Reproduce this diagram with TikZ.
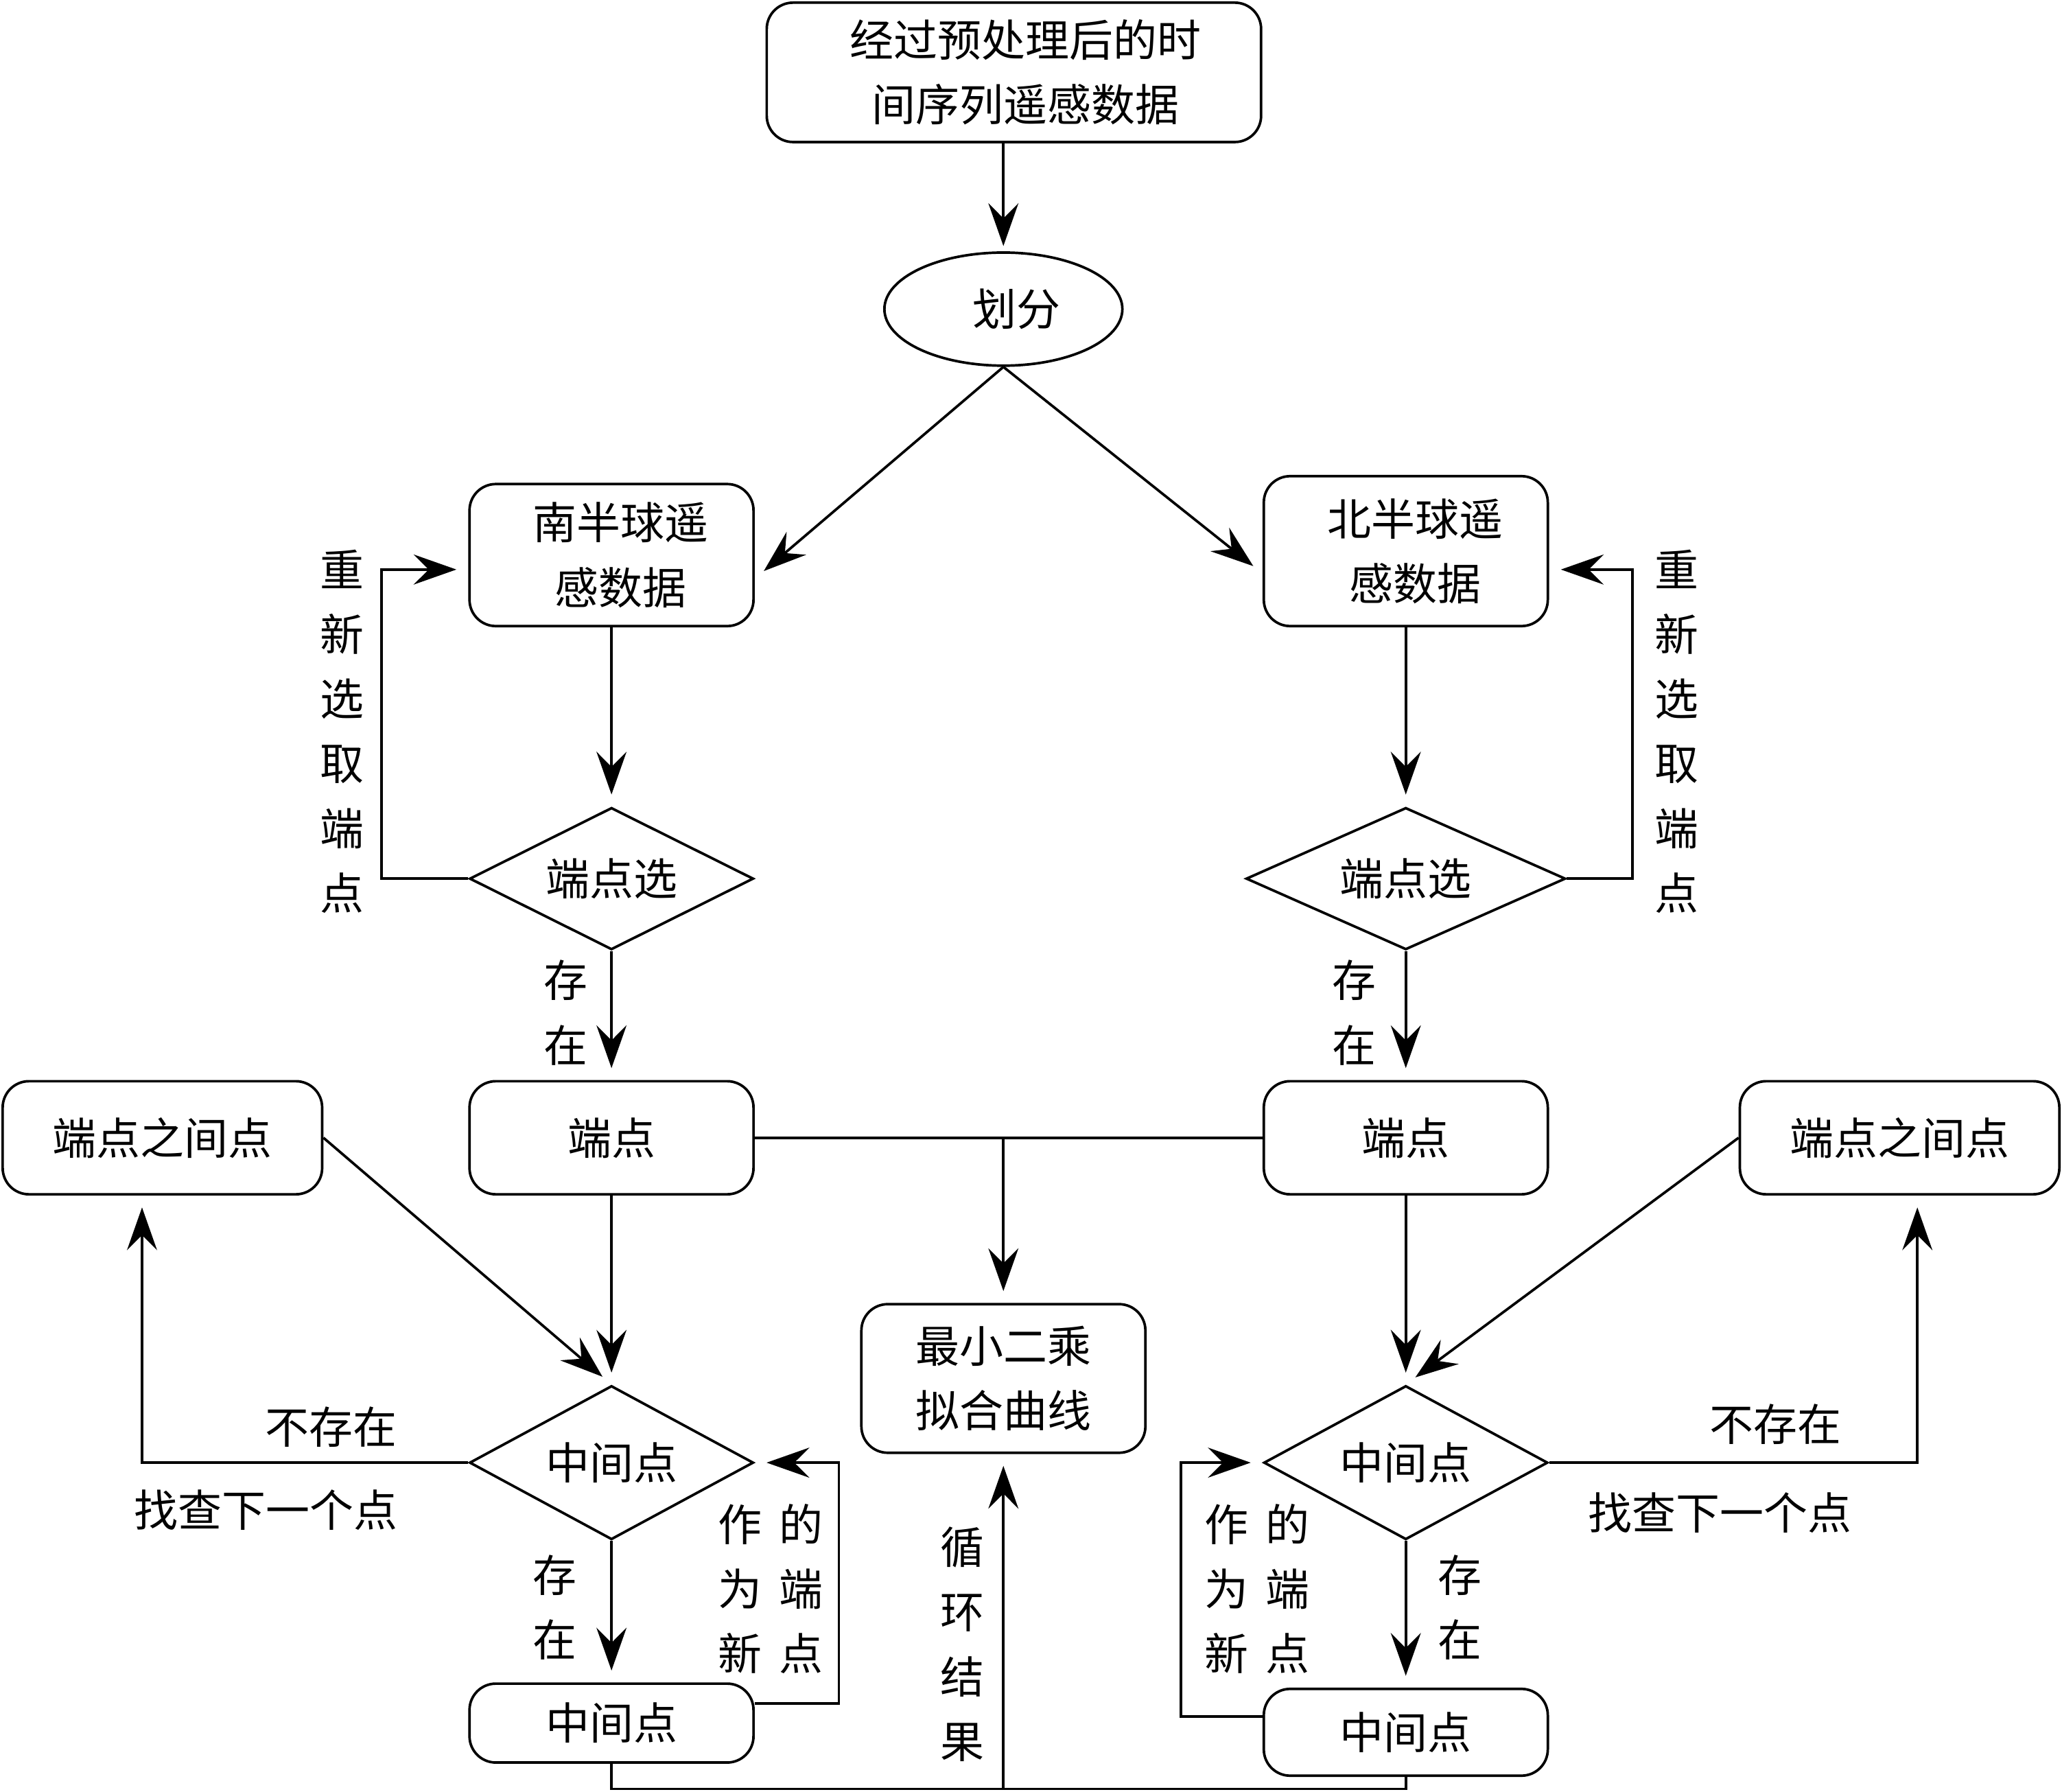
\documentclass[tikz,border=0pt]{standalone}
\usepackage{fontspec}
\newfontfamily\cjk{Noto Sans CJK SC}
\usetikzlibrary{shapes.geometric,arrows.meta,calc}
\begin{document}
\begin{tikzpicture}[x=0.02cm,y=-0.02cm,
  every node/.style={font=\cjk\fontsize{19}{28}\selectfont, inner sep=0pt},
  rbox/.style={draw, rounded corners=0.4cm, line width=1.1pt, align=center},
  dbox/.style={draw, diamond, line width=1.1pt},
  arr/.style={-{Stealth[length=18.5pt,width=13pt,inset=6.5pt]}, line width=1.1pt, shorten >=0.18cm},
  ln/.style={line width=1.1pt},
  lbl/.style={align=center}
]
\useasboundingbox (0,0) rectangle (1568,1362);
% nodes
\node[rbox, minimum width=7.52cm, minimum height=2.12cm] (top) at (771,55) {\hspace*{0.36cm}经过预处理后的时\\\hspace*{0.36cm}间序列遥感数据};
\node[draw, ellipse, line width=1.1pt, minimum width=3.62cm, minimum height=1.72cm] (div) at (763,235) {\hspace*{0.4cm}划分};
\node[rbox, minimum width=4.32cm, minimum height=2.16cm] (south) at (465,422) {\hspace*{0.28cm}南半球遥\\\hspace*{0.28cm}感数据};
\node[rbox, minimum width=4.32cm, minimum height=2.28cm] (north) at (1069,419) {\hspace*{0.28cm}北半球遥\\\hspace*{0.28cm}感数据};
\node[dbox, shape aspect=2, minimum width=4.32cm, minimum height=2.16cm] (sdia) at (465,668) {端点选};
\node[dbox, shape aspect=2.25, minimum width=4.86cm, minimum height=2.16cm] (ndia) at (1069,668) {端点选};
\node[rbox, minimum width=4.32cm, minimum height=1.72cm] (sep) at (465,865) {端点};
\node[rbox, minimum width=4.32cm, minimum height=1.72cm] (nep) at (1069,865) {端点};
\node[rbox, minimum width=4.32cm, minimum height=2.26cm] (lsq) at (763,1048) {最小二乘\\拟合曲线};
\node[rbox, minimum width=4.86cm, minimum height=1.72cm] (lbt) at (123.5,865) {端点之间点};
\node[rbox, minimum width=4.86cm, minimum height=1.72cm] (rbt) at (1444.5,865) {端点之间点};
\node[dbox, shape aspect=1.83, minimum width=4.32cm, minimum height=2.34cm] (lmid) at (465,1112) {中间点};
\node[dbox, shape aspect=1.83, minimum width=4.32cm, minimum height=2.34cm] (rmid) at (1069,1112) {中间点};
\node[rbox, minimum width=4.32cm, minimum height=1.2cm] (lmb) at (465,1310) {中间点};
\node[rbox, minimum width=4.32cm, minimum height=1.32cm] (rmb) at (1069,1317) {中间点};
% labels
\node[lbl] (l1) at (260,556) {重\\新\\选\\取\\端\\点};
\node[lbl] (l2) at (1275,556) {重\\新\\选\\取\\端\\点};
\node[lbl] (e1) at (430,770) {存\\在};
\node[lbl] (e2) at (1030,770) {存\\在};
\node[lbl] (e3) at (422,1222) {存\\在};
\node[lbl] (e4) at (1110,1222) {存\\在};
\node (n1) at (252,1085) {不存在};
\node (f1) at (202,1148) {找查下一个点};
\node (n2) at (1350,1083) {不存在};
\node (f2) at (1308,1150) {找查下一个点};
\node[lbl] (c1) at (732,1250) {循\\环\\结\\果};
\node[lbl] (w1) at (586,1208) {作\hspace{0.26cm}的\\为\hspace{0.26cm}端\\新\hspace{0.26cm}点};
\node[lbl] (w2) at (956,1208) {作\hspace{0.26cm}的\\为\hspace{0.26cm}端\\新\hspace{0.26cm}点};
% connectors
\draw[arr, shorten >=0.08cm] (div.north |- top.south) -- (div.north);
\draw[arr] (div.south) -- ([yshift=-0.36cm]south.east);
\draw[arr] (div.south) -- ([yshift=-0.34cm]north.west);
\draw[arr] (south.south) -- (sdia.north);
\draw[arr] (north.south) -- (ndia.north);
\draw[arr] (sdia.west) -- ++(-66,0) |- ([yshift=-0.22cm]south.west);
\draw[arr] (ndia.east) -- ++(50,0) |- ([yshift=-0.28cm]north.east);
\draw[arr] (sdia.south) -- (sep.north);
\draw[arr] (ndia.south) -- (nep.north);
\draw[ln] (sep.east) -- (nep.west);
\draw[arr] (lsq.north |- sep.east) -- (lsq.north);
\draw[arr] (lbt.east) -- (lmid.north);
\draw[arr] (sep.south) -- (lmid.north);
\draw[arr] (rbt.west) -- (rmid.north);
\draw[arr] (nep.south) -- (rmid.north);
\draw[arr] (lmid.west) -| ([xshift=-0.31cm]lbt.south);
\draw[arr] (rmid.east) -| ([xshift=0.27cm]rbt.south);
\draw[arr] (lmid.south) -- (lmb.north);
\draw[arr] (rmid.south) -- (rmb.north);
\draw[arr] ([yshift=0.3cm]lmb.east) -- ++(64,0) |- (lmid.east);
\draw[arr] ([yshift=0.24cm]rmb.west) -- ++(-62,0) |- (rmid.west);
\coordinate (bot) at (763,1360);
\draw[ln] (lmb.south) -- (lmb.south |- bot) -- (rmb.south |- bot) -- (rmb.south);
\draw[arr] (bot) -- (lsq.south);
\end{tikzpicture}
\end{document}
